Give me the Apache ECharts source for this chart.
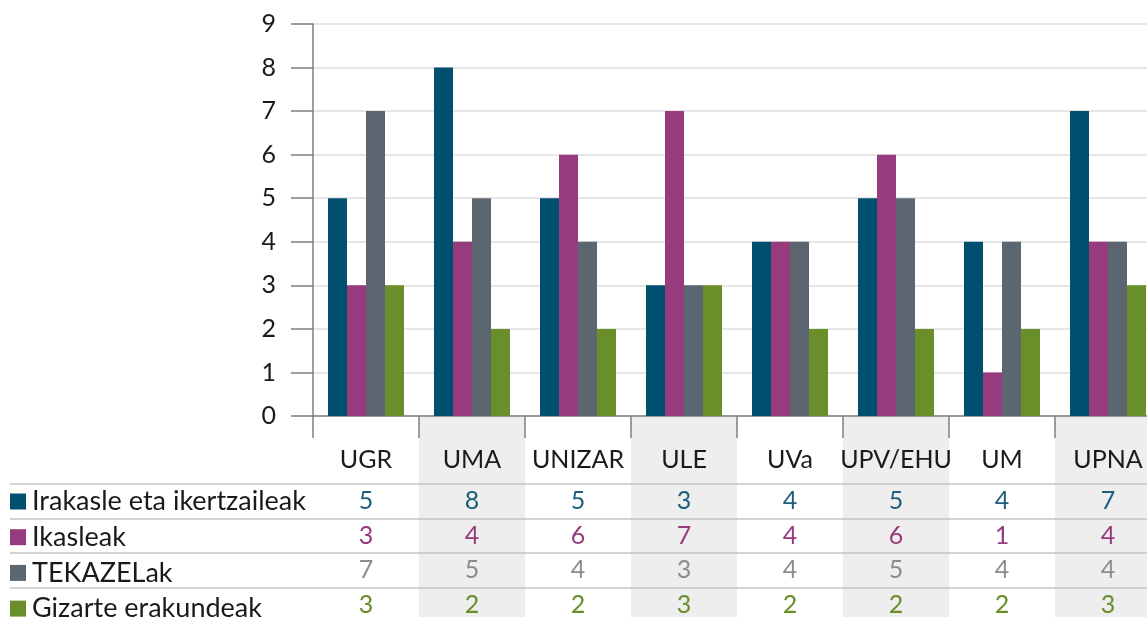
<!DOCTYPE html>
<html lang="eu">
<head>
<meta charset="utf-8">
<title>Bar chart with table</title>
<script src="https://cdn.jsdelivr.net/npm/echarts@6/dist/echarts.min.js"></script>
<style>
  html, body { margin: 0; padding: 0; background: #fff; overflow: hidden; }
  /* the last column is cut off at the right edge, as in the original */
  #main { width: 1161px; height: 617px; }
</style>
</head>
<body>
<div id="main"></div>
<script>
// data
var categories = ['UGR', 'UMA', 'UNIZAR', 'ULE', 'UVa', 'UPV/EHU', 'UM', 'UPNA'];
var seriesNames = ['Irakasle eta ikertzaileak', 'Ikasleak', 'TEKAZELak', 'Gizarte erakundeak'];
var irakasleak = [5, 8, 5, 3, 4, 5, 4, 7];
var ikasleak   = [3, 4, 6, 7, 4, 6, 1, 4];
var tekazelak  = [7, 5, 4, 3, 4, 5, 4, 4];
var gizarte    = [3, 2, 2, 3, 2, 2, 2, 3];
var yTicks = [0, 1, 2, 3, 4, 5, 6, 7, 8, 9];

var seriesData = [irakasleak, ikasleak, tekazelak, gizarte];
var barColors = ['#004f6e', '#963b7e', '#5b6670', '#6a8e29'];
var tableColors = ['#1d5e7d', '#963b7e', '#8c8c8c', '#6a8e29'];
var font = 'Lato, "Noto Sans", sans-serif';
var fs = 25;

var chart = echarts.init(document.getElementById('main'));

var plotTop = 24, plotBottom = 416, plotLeft = 313;
var rowCenters = [501, 536, 570, 605];
var rowLines = [484, 519, 553, 588];

var xAxes = [{
  type: 'category',
  gridIndex: 0,
  data: categories,
  axisLine: { lineStyle: { color: '#7f7f7f', width: 1.5 } },
  axisTick: { show: true, length: 22, interval: 0, lineStyle: { color: '#7f7f7f', width: 1.5 } },
  axisLabel: { interval: 0, margin: 31, fontSize: fs, color: '#1a1a1a', fontFamily: font }
}, {
  type: 'category',
  gridIndex: 1,
  data: categories,
  axisLine: { show: false },
  axisTick: { show: false },
  axisLabel: { show: false },
  splitArea: { show: true, interval: 0, areaStyle: { color: ['rgba(255,255,255,0)', '#eeeeee'] } }
}];

// value rows of the table, one extra axis per series
seriesData.forEach(function (vals, i) {
  xAxes.push({
    type: 'category',
    gridIndex: 0,
    position: 'bottom',
    offset: rowCenters[i] - plotBottom - 13,
    data: vals.map(String),
    axisLine: { show: false },
    axisTick: { show: false },
    axisLabel: { interval: 0, margin: 0, fontSize: fs, color: tableColors[i], fontFamily: font }
  });
});

var option = {
  animation: false,
  backgroundColor: '#ffffff',
  grid: [
    { left: plotLeft, top: plotTop, right: 0, height: plotBottom - plotTop },
    { left: plotLeft, top: plotBottom + 1, right: 0, bottom: 0 }
  ],
  legend: {
    orient: 'vertical',
    left: 10,
    top: rowCenters[0] - 13,
    height: 200,
    padding: 0,
    itemGap: 8.7,
    itemWidth: 16,
    itemHeight: 16,
    icon: 'rect',
    selectedMode: false,
    data: seriesNames,
    textStyle: { fontSize: 27, lineHeight: 26, color: '#1a1a1a', fontFamily: font, padding: [0, 0, 0, 1] }
  },
  xAxis: xAxes,
  yAxis: [{
    type: 'value',
    gridIndex: 0,
    min: yTicks[0],
    max: yTicks[yTicks.length - 1],
    interval: 1,
    axisLine: { show: true, lineStyle: { color: '#7f7f7f', width: 1.5 } },
    axisTick: { show: true, length: 22, lineStyle: { color: '#7f7f7f', width: 1.5 } },
    axisLabel: { margin: 37, fontSize: fs, color: '#1a1a1a', fontFamily: font },
    splitLine: { lineStyle: { color: '#dedede', width: 1.5 } }
  }, {
    type: 'value',
    gridIndex: 1,
    show: false
  }],
  series: seriesData.map(function (vals, i) {
    return {
      name: seriesNames[i],
      type: 'bar',
      xAxisIndex: 0,
      yAxisIndex: 0,
      data: vals,
      barWidth: 19,
      barGap: 0,
      itemStyle: { color: barColors[i] }
    };
  }),
  graphic: rowLines.map(function (y) {
    return {
      type: 'line',
      shape: { x1: 10, y1: y, x2: 1161, y2: y },
      style: { stroke: '#c4c4c4', lineWidth: 1.5 },
      z: 5
    };
  })
};

chart.setOption(option);
</script>
</body>
</html>
